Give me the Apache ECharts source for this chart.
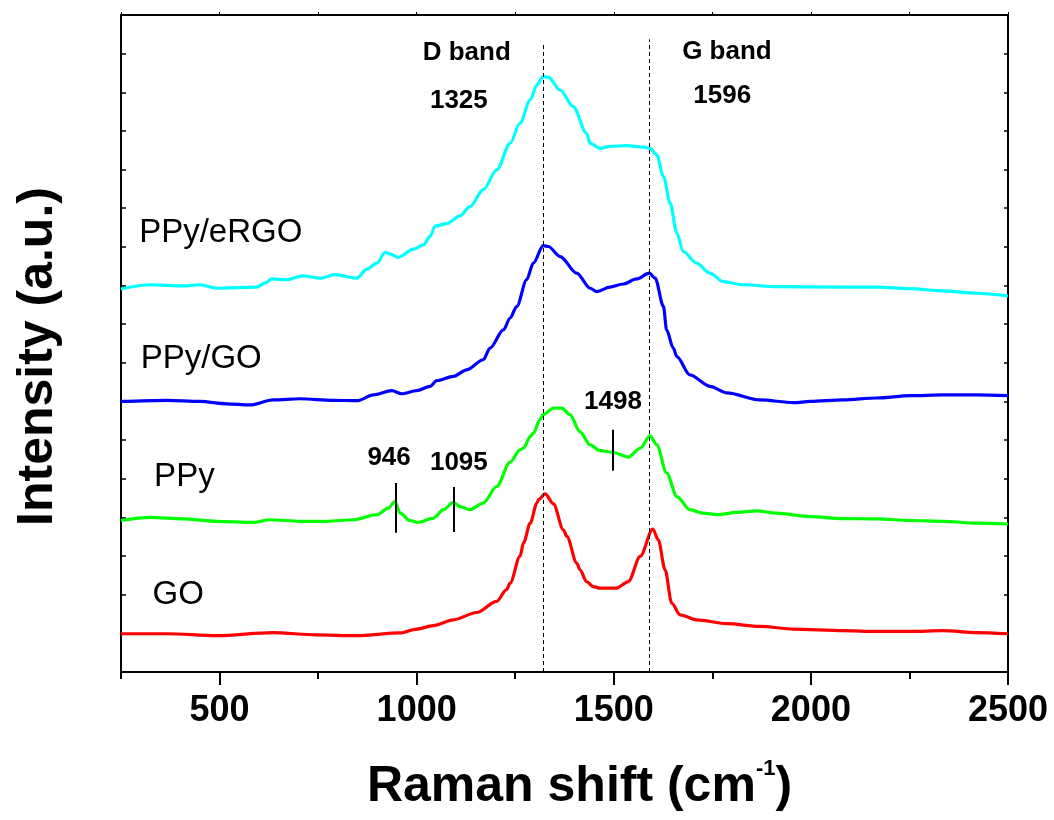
<!DOCTYPE html>
<html>
<head>
<meta charset="utf-8">
<script src="https://cdn.jsdelivr.net/npm/echarts@6/dist/echarts.min.js"></script>
<style>
  html, body { margin: 0; padding: 0; background: #fff; }
  #main { width: 1054px; height: 820px; }
</style>
</head>
<body>
<div id="main"></div>
<script>
// Raman spectra, [shift (cm-1), intensity (a.u., stacked offsets)]
var goData = [
  [250,0.99],[366,0.99],[493,0.94],[636,1.02],[746,0.96],[848,0.94],[958,1.01],[1000,1.11],
  [1042,1.20],[1093,1.35],[1152,1.54],[1203,1.83],[1228,2.13],[1237,2.30],[1262,2.99],[1271,3.34],
  [1288,3.85],[1305,4.37],[1309,4.46],[1326,4.61],[1347,4.35],[1372,3.68],[1381,3.51],[1406,2.82],
  [1414,2.65],[1431,2.34],[1448,2.21],[1465,2.17],[1507,2.17],[1537,2.34],[1567,2.99],[1599,3.70],
  [1613,3.42],[1630,2.65],[1647,1.78],[1668,1.48],[1710,1.35],[1787,1.25],[1871,1.18],[1956,1.11],
  [2082,1.07],[2167,1.05],[2252,1.05],[2336,1.07],[2421,1.02],[2500,0.99]
];
var ppyData = [
  [250,3.92],[324,4.00],[408,3.96],[493,3.90],[586,3.87],[628,3.94],[704,3.90],[772,3.90],
  [839,3.94],[899,4.07],[928,4.24],[945,4.41],[958,4.11],[983,3.92],[1004,3.87],[1042,3.98],
  [1068,4.20],[1093,4.39],[1110,4.28],[1135,4.20],[1169,4.37],[1203,4.80],[1237,5.43],[1262,5.75],
  [1271,5.79],[1288,6.09],[1296,6.18],[1313,6.53],[1321,6.66],[1347,6.83],[1368,6.83],[1389,6.66],
  [1414,6.22],[1440,5.88],[1465,5.73],[1499,5.68],[1537,5.56],[1567,5.79],[1592,6.11],[1609,5.88],
  [1634,5.15],[1660,4.54],[1693,4.20],[1727,4.11],[1761,4.07],[1812,4.13],[1863,4.17],[1913,4.11],
  [1998,4.02],[2082,3.97],[2167,3.96],[2252,3.92],[2336,3.90],[2421,3.85],[2500,3.83]
];
var ppyGoData = [
  [250,7.00],[366,7.03],[450,7.00],[518,6.94],[577,6.91],[636,7.04],[704,7.07],[789,7.03],
  [849,7.02],[890,7.17],[937,7.28],[962,7.20],[1000,7.28],[1034,7.39],[1051,7.54],[1093,7.65],
  [1127,7.82],[1169,8.08],[1186,8.38],[1220,8.85],[1237,9.16],[1254,9.46],[1279,10.15],[1296,10.58],
  [1321,11.03],[1334,11.01],[1364,10.75],[1406,10.32],[1440,9.93],[1457,9.84],[1490,9.96],[1524,10.04],
  [1558,10.17],[1590,10.32],[1605,10.19],[1626,9.46],[1634,8.85],[1651,8.38],[1660,8.16],[1693,7.69],
  [1744,7.39],[1787,7.22],[1871,7.04],[1956,6.97],[1998,7.00],[2082,7.04],[2167,7.09],[2252,7.15],
  [2336,7.17],[2421,7.17],[2500,7.15]
];
var ppyErgoData = [
  [250,9.91],[324,10.02],[408,9.99],[450,10.02],[493,9.93],[594,9.96],[615,10.06],[632,10.17],
  [670,10.15],[712,10.25],[755,10.19],[793,10.28],[848,10.19],[873,10.42],[899,10.58],[920,10.86],
  [932,10.82],[953,10.73],[992,10.94],[1017,11.05],[1034,11.27],[1047,11.54],[1076,11.60],[1110,11.80],
  [1135,12.04],[1169,12.48],[1203,12.99],[1237,13.68],[1262,14.20],[1288,14.80],[1305,15.19],[1321,15.41],
  [1334,15.39],[1364,15.06],[1397,14.63],[1431,13.94],[1440,13.68],[1465,13.55],[1490,13.60],[1533,13.62],
  [1575,13.58],[1592,13.55],[1609,13.38],[1626,12.82],[1643,12.13],[1660,11.36],[1676,10.88],[1710,10.58],
  [1744,10.32],[1778,10.10],[1829,10.02],[1913,9.97],[2082,9.96],[2167,9.96],[2252,9.92],[2336,9.86],
  [2421,9.80],[2500,9.73]
];

var majorTicks = [500, 1000, 1500, 2000, 2500];
var minorTicks = [250, 750, 1250, 1750, 2250];

// sample names and where they sit
var sampleLabels = [
  { name: 'PPy/eRGO', value: [296, 11.35] },
  { name: 'PPy/GO', value: [300, 8.11] },
  { name: 'PPy', value: [334, 5.05] },
  { name: 'GO', value: [330, 1.99] }
];
// bold peak annotations
var peakLabels = [
  { name: 'D band', value: [1127, 16.01] },
  { name: '1325', value: [1107, 14.78] },
  { name: 'G band', value: [1787, 16.05] },
  { name: '1596', value: [1775, 14.90] },
  { name: '946', value: [930, 5.54] },
  { name: '1095', value: [1107, 5.41] },
  { name: '1498', value: [1498, 7.00] }
];
// band positions (dashed) and small peak markers [shift, from, to]
var bandLines = [[1320, 0, 16.23], [1590, 0, 16.37]];
var peakMarks = [[946, 3.60, 4.89], [1095, 3.62, 4.79], [1498, 5.21, 6.27]];

var font = 'Liberation Sans, Arial, sans-serif';

var chart = echarts.init(document.getElementById('main'));

function spectrum(name, data, color) {
  return {
    name: name,
    type: 'line',
    data: data,
    showSymbol: false,
    smooth: 0.3,
    smoothMonotone: 'x',
    lineStyle: { color: color, width: 3.2 },
    itemStyle: { color: color },
    silent: true
  };
}

var option = {
  animation: false,
  backgroundColor: '#fff',
  grid: { left: 121, right: 46, top: 15, bottom: 148 },
  xAxis: [
    {
      type: 'value', min: 250, max: 2500, position: 'bottom',
      axisLine: { show: true, onZero: false, lineStyle: { color: '#000', width: 2 } },
      axisTick: { show: true, inside: false, length: 13, customValues: majorTicks, lineStyle: { color: '#000', width: 2 } },
      axisLabel: {
        customValues: majorTicks, fontSize: 36, fontWeight: 'bold', color: '#000', fontFamily: font, margin: 21,
        formatter: function (v) { return String(v); }
      },
      splitLine: { show: false },
      name: '{p|Raman shift (cm}{s|-1}{a|)}',
      nameLocation: 'middle',
      nameGap: 86,
      nameTextStyle: {
        rich: {
          p: { fontSize: 50, fontWeight: 'bold', color: '#000', fontFamily: font, padding: [0, 0, 0, 30] },
          a: { fontSize: 50, fontWeight: 'bold', color: '#000', fontFamily: font },
          s: { fontSize: 22, fontWeight: 'bold', color: '#000', fontFamily: font, verticalAlign: 'bottom', padding: [0, 0, 36, 0] }
        }
      }
    },
    {
      type: 'value', min: 250, max: 2500, position: 'bottom',
      axisLine: { show: false, onZero: false },
      axisTick: { show: true, inside: false, length: 7, customValues: minorTicks, lineStyle: { color: '#000', width: 2 } },
      axisLabel: { show: false },
      splitLine: { show: false }
    },
    {
      type: 'value', min: 250, max: 2500, interval: 250, position: 'top',
      axisLine: { show: true, onZero: false, lineStyle: { color: '#000', width: 2 } },
      axisTick: { show: true, inside: false, length: 3, lineStyle: { color: '#000', width: 1 } },
      axisLabel: { show: false },
      splitLine: { show: false }
    }
  ],
  yAxis: [
    {
      type: 'value', min: 0, max: 17, interval: 1, position: 'left',
      axisLine: { show: true, onZero: false, lineStyle: { color: '#000', width: 2 } },
      axisTick: { show: true, inside: true, length: 5, lineStyle: { color: '#000', width: 1.5 } },
      axisLabel: { show: false },
      splitLine: { show: false },
      name: 'Intensity (a.u.)',
      nameLocation: 'middle',
      nameGap: 58,
      nameRotate: 90,
      nameTextStyle: { fontSize: 50, fontWeight: 'bold', color: '#000', fontFamily: font, padding: [0, 26, 0, 0] }
    },
    {
      type: 'value', min: 0, max: 17, interval: 1, position: 'right',
      axisLine: { show: true, onZero: false, lineStyle: { color: '#000', width: 2 } },
      axisTick: { show: true, inside: true, length: 4, lineStyle: { color: '#000', width: 1.5 } },
      axisLabel: { show: false },
      splitLine: { show: false }
    }
  ],
  series: [
    spectrum('GO', goData, '#ff0000'),
    spectrum('PPy', ppyData, '#00ff00'),
    spectrum('PPy/GO', ppyGoData, '#0000ff'),
    spectrum('PPy/eRGO', ppyErgoData, '#00ffff'),
    {
      name: 'samples',
      type: 'scatter',
      symbolSize: 0,
      silent: true,
      itemStyle: { opacity: 1 },
      data: sampleLabels,
      label: {
        show: true, position: 'right', distance: 0, opacity: 1,
        formatter: '{b}', fontSize: 33, color: '#000', fontFamily: font,
        textBorderWidth: 0
      },
      markLine: {
        silent: true,
        symbol: ['none', 'none'],
        label: { show: false },
        lineStyle: { color: '#000', width: 1, type: [4, 3], opacity: 1 },
        data: bandLines.map(function (b) {
          return [{ coord: [b[0], b[1]] }, { coord: [b[0], b[2]] }];
        })
      }
    },
    {
      name: 'peaks',
      type: 'scatter',
      symbolSize: 0,
      silent: true,
      itemStyle: { opacity: 1 },
      data: peakLabels,
      label: {
        show: true, position: 'inside', opacity: 1,
        formatter: '{b}', fontSize: 26, fontWeight: 'bold', color: '#000', fontFamily: font,
        textBorderWidth: 0
      },
      markLine: {
        silent: true,
        symbol: ['none', 'none'],
        label: { show: false },
        lineStyle: { color: '#000', width: 2, type: 'solid', opacity: 1 },
        data: peakMarks.map(function (m) {
          return [{ coord: [m[0], m[1]] }, { coord: [m[0], m[2]] }];
        })
      }
    }
  ]
};

chart.setOption(option);
</script>
</body>
</html>
